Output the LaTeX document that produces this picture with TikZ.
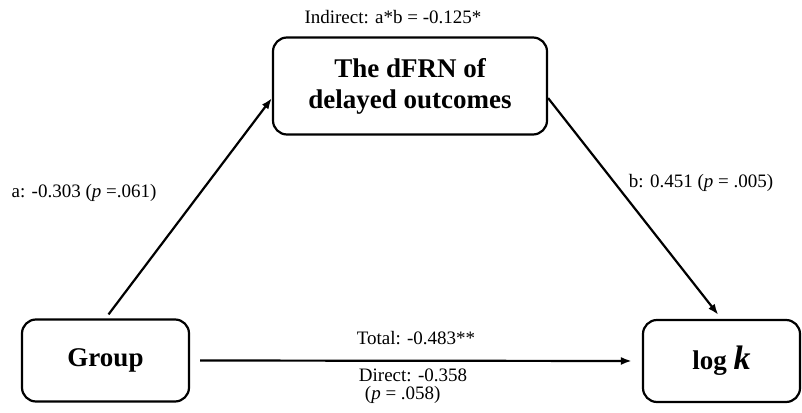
\documentclass[tikz,border=0pt]{standalone}
\usepackage{fontspec}
\setmainfont{Liberation Serif}
\usepackage{tikz}
\usetikzlibrary{arrows.meta}

\begin{document}
\begin{tikzpicture}[
    x=1pt, y=1pt,
    >={Latex[length=11pt,width=8pt]},
    box/.style={draw, line width=2.2pt, rounded corners=14pt, align=center, inner sep=0pt,
      font=\fontsize{27}{31}\selectfont\bfseries},
    lbl/.style={font=\fontsize{19}{18}\selectfont, inner sep=0pt},
    path/.style={->, line width=2.2pt}
  ]
    \useasboundingbox (0,0) rectangle (802,412);

    % Variables
    \node[box, minimum width=274pt, minimum height=97pt] (med) at (410, 326) {The dFRN of\\delayed outcomes};
    \node[box, minimum width=167pt, minimum height=82pt] (grp) at (105.5, 51.5) {Group};
    \node[box, minimum width=157pt, minimum height=82pt] (logk) at (721.5, 51) {log {\fontsize{34}{34}\selectfont\itshape k}};

    % Paths
    \draw[path, shorten <=5pt] (grp.north) -- (med.185);
    \draw[path, shorten >=5pt] (med.355) -- (logk.north);
    \draw[path, shorten <=10pt, shorten >=10pt] (grp.east) -- (logk.west);

    % Coefficients
    \node[lbl] (ind) at (393, 395) {Indirect: a*b = -0.125*};
    \node[lbl] (la) at (84, 219) {a: -0.303 (\textit{p} =.061)};
    \node[lbl] (lb) at (701, 229) {b: 0.451 (\textit{p} = .005)};
    \node[lbl] (tot) at (416, 74) {Total: -0.483**};
    \node[lbl, align=left] (dir) at (413, 25.5) {Direct: -0.358\\\hspace*{6pt}(\textit{p} = .058)};
  \end{tikzpicture}
\end{document}
